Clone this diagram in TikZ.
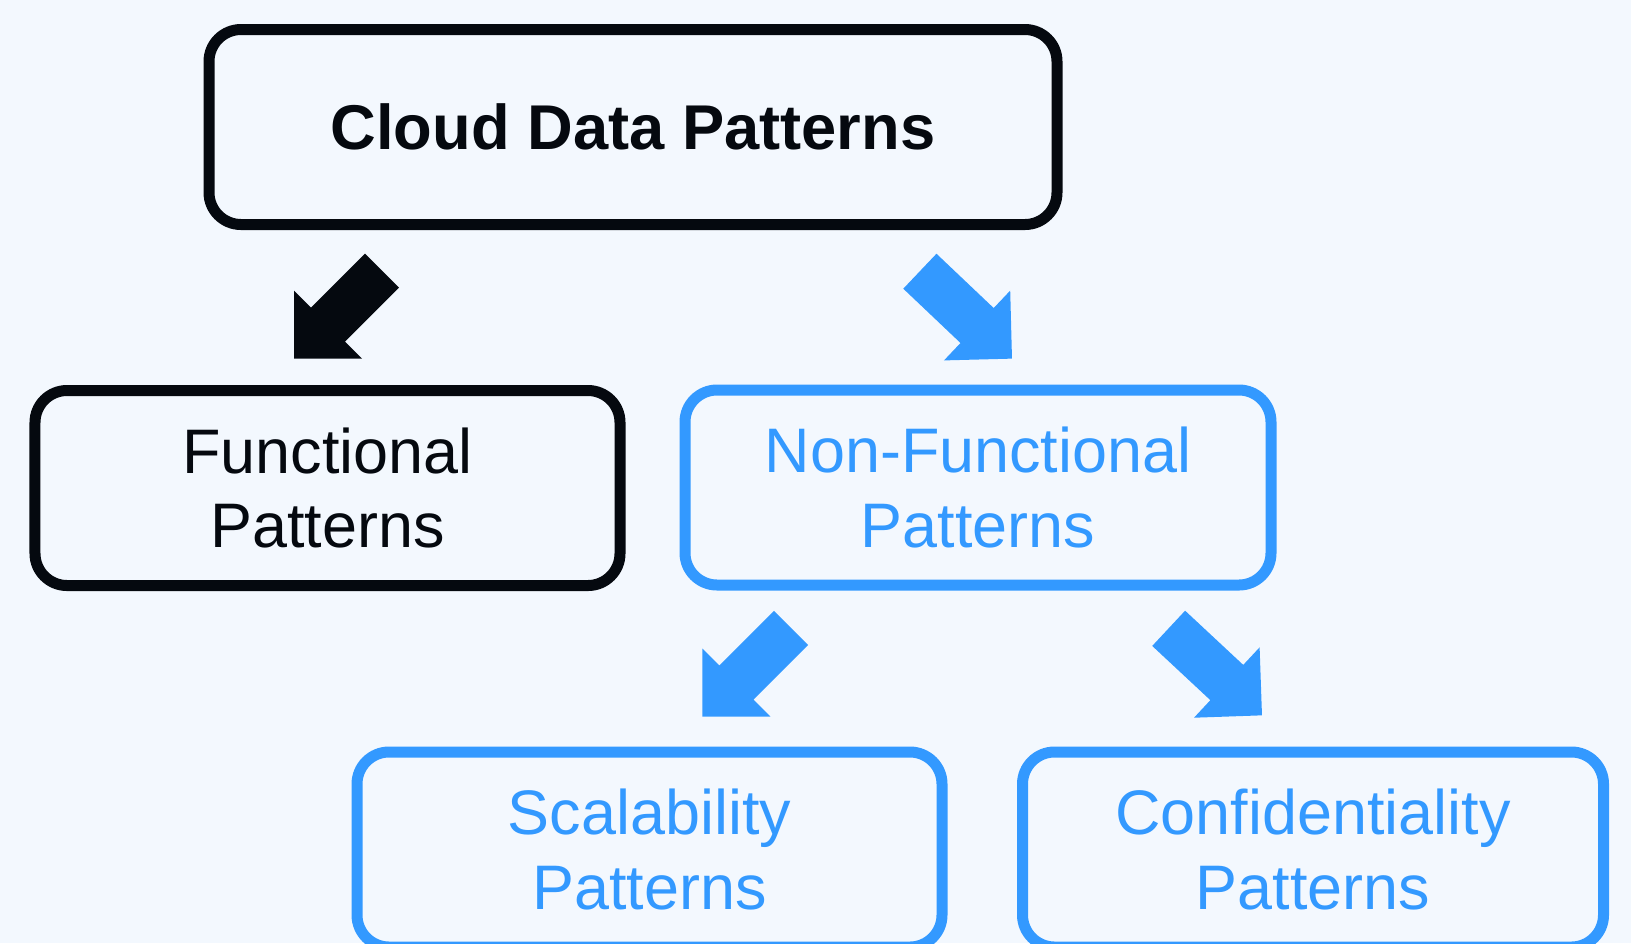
\documentclass[tikz,border=0pt]{standalone}
\usepackage{fontspec}
\setmainfont{Liberation Sans}
\usetikzlibrary{shapes.arrows}

\definecolor{bgblue}{HTML}{F3F8FE}
\definecolor{patblue}{HTML}{3399FF}
\definecolor{patblack}{HTML}{05090F}

\begin{document}
\begin{tikzpicture}
    \tikzstyle{box}=[rectangle, rounded corners=0.32cm, line width=0.11cm, minimum height=1.95cm, inner sep=0pt, align=center, font=\fontsize{17.9}{21.3}\selectfont]
    \tikzstyle{black box}=[box, draw=patblack, text=patblack]
    \tikzstyle{blue box}=[box, draw=patblue, text=patblue]
    \tikzstyle{big arrow}=[single arrow, single arrow head extend=0.24cm, inner xsep=0pt, inner ysep=0.234cm, minimum width=0pt, anchor=tip]

    % Background of the page
    \clip (0,0) rectangle (16.31,-9.43);
    \fill[bgblue] (0,0) rectangle (16.31,-9.43);

    % Draw the top node
    \node[black box, minimum width=8.48cm, font=\fontsize{18}{21.3}\selectfont\bfseries] (cloud) at (6.33,-1.27) {Cloud Data Patterns};

    % Draw the second level
    \node[black box, minimum width=5.85cm] (func) at (3.275,-4.88) {Functional\\Patterns};
    \node[blue box, minimum width=5.86cm] (nonfunc) at (9.78,-4.875) {Non-Functional\\Patterns};

    % Draw the third level
    \node[blue box, minimum width=5.85cm] (scal) at (6.495,-8.495) {Scalability\\Patterns};
    \node[blue box, minimum width=5.81cm] (conf) at (13.13,-8.495) {Confidentiality\\Patterns};

    % Draw the block arrows (placed by their tips)
    \foreach \name/\x/\y/\ang/\len/\col in {
        a-func/2.933/-3.593/-135/1.245/patblack,
        a-nonfunc/10.127/-3.593/-43.5/1.27/patblue,
        a-scal/7.017/-7.173/-135/1.254/patblue,
        a-conf/12.627/-7.16/-43/1.276/patblue}
        \node[big arrow, fill=\col, rotate=\ang, minimum height=\len cm] (\name) at (\x,\y) {};

\end{tikzpicture}
\end{document}
